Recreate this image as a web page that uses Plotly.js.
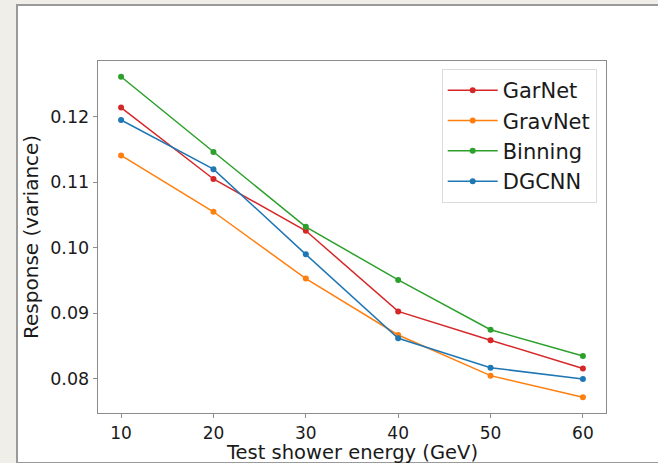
<!DOCTYPE html>
<html>
<head>
<meta charset="utf-8">
<script src="https://cdn.plot.ly/plotly-3.0.1.min.js"></script>
<style>
  html, body { margin: 0; padding: 0; background: #efeee9; width: 658px; height: 463px; overflow: hidden; }
  #frame { position: absolute; left: 16px; top: 4px; width: 660px; height: 456px; background: #ffffff;
           border-left: 2px solid #9a9a9a; border-top: 2px solid #9a9a9a; border-bottom: 2px solid #9a9a9a; }
  #chart { position: absolute; left: 0; top: 0; width: 658px; height: 463px; }
</style>
</head>
<body>
<div id="frame"></div>
<div id="chart"></div>
<script>
const energies = [10, 20, 30, 40, 50, 60];
const garnet  = [0.1214, 0.1105, 0.1026, 0.0903, 0.0859, 0.0816];
const gravnet = [0.1141, 0.1055, 0.0953, 0.0867, 0.0805, 0.0772];
const binning = [0.1261, 0.1146, 0.1032, 0.0951, 0.0875, 0.0835];
const dgcnn   = [0.1195, 0.1120, 0.0990, 0.0862, 0.0817, 0.0800];
const seriesNames = ['GarNet', 'GravNet', 'Binning', 'DGCNN'];
const seriesData = [garnet, gravnet, binning, dgcnn];
const colors = ['#d62728', '#ff7f0e', '#2ca02c', '#1f77b4'];
const yTicks = [0.08, 0.09, 0.10, 0.11, 0.12];
const xTicks = [10, 20, 30, 40, 50, 60];
const xTitle = 'Test shower energy (GeV)';
const yTitle = 'Response (variance)';

const font = 'DejaVu Sans, sans-serif';
const traces = seriesNames.map((n, i) => ({
  x: energies, y: seriesData[i], name: n, type: 'scatter', mode: 'lines+markers',
  line: {color: colors[i], width: 1.5},
  marker: {color: colors[i], size: 6}
}));

const axisCommon = {
  showgrid: false, zeroline: false, showline: true, mirror: true,
  linecolor: '#8c8c8c', linewidth: 1.3, ticks: 'outside', ticklen: 4, tickwidth: 1,
  tickcolor: '#8c8c8c', tickfont: {family: font, size: 17.5, color: '#1a1a1a'}
};

const layout = {
  width: 658, height: 463,
  paper_bgcolor: 'rgba(0,0,0,0)', plot_bgcolor: '#ffffff',
  margin: {l: 98, r: 52, t: 61, b: 50},
  showlegend: true,
  legend: {
    x: 0.6766, y: 0.977, xanchor: 'left', yanchor: 'top',
    bgcolor: '#ffffff', bordercolor: '#dcdcdc', borderwidth: 1,
    font: {family: font, size: 21, color: '#1a1a1a'},
    itemwidth: 50
  },
  xaxis: Object.assign({}, axisCommon, {
    range: [7.5, 62.5], tickvals: xTicks, ticktext: xTicks.map(String),
    tickfont: {family: font, size: 17, color: '#1a1a1a'}
  }),
  yaxis: Object.assign({}, axisCommon, {
    range: [0.0748, 0.1285], tickvals: yTicks, ticktext: yTicks.map(v => v.toFixed(2))
  }),
  annotations: [{
    text: xTitle, xref: 'paper', yref: 'paper', x: 0.5, y: -0.111,
    xanchor: 'center', yanchor: 'middle', showarrow: false,
    font: {family: font, size: 19.5, color: '#1a1a1a'}
  }, {
    text: yTitle, xref: 'paper', yref: 'paper', x: -0.132, y: 0.5, textangle: -90,
    xanchor: 'center', yanchor: 'middle', showarrow: false,
    font: {family: font, size: 20, color: '#1a1a1a'}
  }]
};

Plotly.newPlot('chart', traces, layout, {displayModeBar: false, staticPlot: true});
</script>
</body>
</html>
